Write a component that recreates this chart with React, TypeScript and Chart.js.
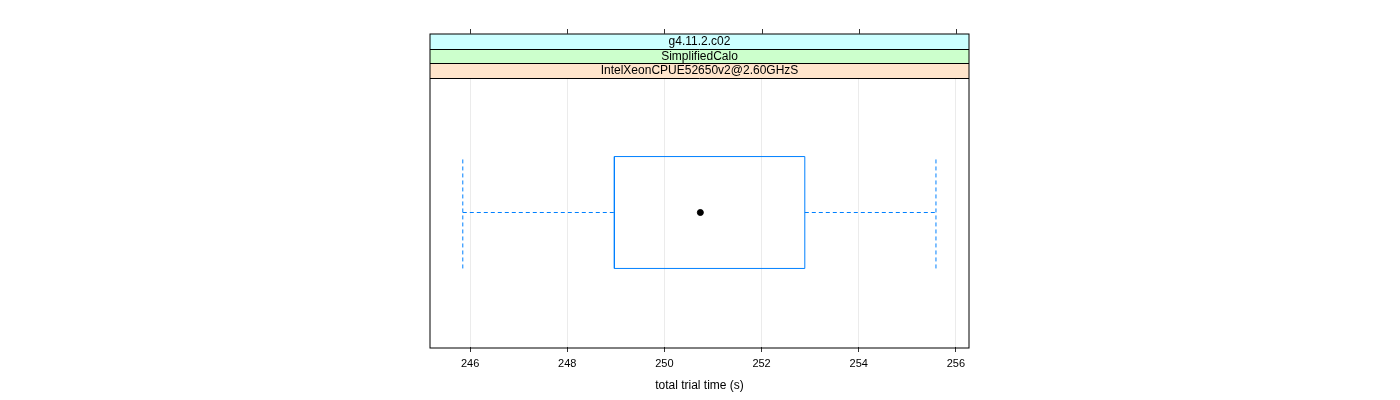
import React, { useEffect, useRef } from "react";
import { Chart, registerables } from "chart.js";

Chart.register(...registerables);

// ---- data ----
const stripLabels = ["g4.11.2.c02", "SimplifiedCalo", "IntelXeonCPUE52650v2@2.60GHzS"];
const stripColors = ["#ccffff", "#ccffcc", "#ffe5cc"];
const whiskerLow = [245.85];
const quartile1 = [248.97];
const medians = [250.74];
const quartile3 = [252.89];
const whiskerHigh = [255.59];
const xTicks = [246, 248, 250, 252, 254, 256];
const xMin = 245.175;
const xMax = 256.27;
const xTitle = "total trial time (s)";

const FONT = "'Liberation Sans', Arial, Helvetica, sans-serif";
const BOX_CENTER = 0.5;
const BOX_HALF = 0.208;
const BOX_COLOR = "#0080ff";

const latticePlugin = {
  id: "lattice",
  afterDraw(chart: any) {
    const { ctx, chartArea } = chart;
    const xs = chart.scales.x;
    const left = Math.round(chartArea.left);
    const right = Math.round(chartArea.right);
    const bottom = Math.round(chartArea.bottom);
    const stripTop = 34;
    const stripH = (Math.round(chartArea.top) - stripTop) / stripLabels.length;
    ctx.save();
    // strip fills + labels
    stripLabels.forEach((lab, i) => {
      const y0 = Math.round(stripTop + i * stripH);
      const y1 = Math.round(stripTop + (i + 1) * stripH);
      ctx.fillStyle = stripColors[i];
      ctx.fillRect(left, y0, right - left, y1 - y0);
      ctx.fillStyle = "#000000";
      ctx.font = `12px ${FONT}`;
      ctx.textAlign = "center";
      ctx.textBaseline = "middle";
      ctx.fillText(lab, (left + right) / 2, (y0 + y1) / 2 + 0.5);
    });
    // strip separators
    ctx.strokeStyle = "#000000";
    ctx.lineWidth = 1;
    for (let i = 1; i <= stripLabels.length; i++) {
      const y1 = Math.round(stripTop + i * stripH);
      ctx.beginPath();
      ctx.moveTo(left, y1 + 0.5);
      ctx.lineTo(right, y1 + 0.5);
      ctx.stroke();
    }
    // panel border (soft, like the reference)
    ctx.strokeStyle = "#000000";
    ctx.lineWidth = 1;
    ctx.strokeRect(left, stripTop, right - left, bottom - stripTop + 1);
    // top ticks
    ctx.strokeStyle = "#333333";
    xTicks.forEach((v) => {
      const px = Math.round(xs.getPixelForValue(v)) + 0.5;
      ctx.beginPath();
      ctx.moveTo(px, stripTop - 5);
      ctx.lineTo(px, stripTop);
      ctx.stroke();
    });
    ctx.restore();
  },
};

export default function App() {
  const ref = useRef<HTMLCanvasElement | null>(null);
  useEffect(() => {
    document.body.style.margin = "0";
    const lo = BOX_CENTER - BOX_HALF;
    const hi = BOX_CENTER + BOX_HALF;
    const i = 0;
    const dashed = {
      showLine: true,
      borderColor: BOX_COLOR,
      borderWidth: 1,
      borderDash: [4, 3],
      pointRadius: 0,
    };
    const chart = new Chart(ref.current as HTMLCanvasElement, {
      type: "scatter",
      data: {
        datasets: [
          {
            ...dashed,
            data: [
              { x: whiskerLow[i], y: BOX_CENTER },
              { x: quartile1[i], y: BOX_CENTER },
            ],
          },
          {
            ...dashed,
            data: [
              { x: quartile3[i], y: BOX_CENTER },
              { x: whiskerHigh[i], y: BOX_CENTER },
            ],
          },
          {
            ...dashed,
            data: [
              { x: whiskerLow[i], y: lo },
              { x: whiskerLow[i], y: hi },
            ],
          },
          {
            ...dashed,
            data: [
              { x: whiskerHigh[i], y: lo },
              { x: whiskerHigh[i], y: hi },
            ],
          },
          {
            showLine: true,
            borderColor: BOX_COLOR,
            borderWidth: 1,
            pointRadius: 0,
            data: [
              { x: quartile1[i], y: lo },
              { x: quartile3[i], y: lo },
              { x: quartile3[i], y: hi },
              { x: quartile1[i], y: hi },
              { x: quartile1[i], y: lo },
            ],
          },
          {
            showLine: false,
            pointRadius: 3,
            pointBackgroundColor: "#000000",
            pointBorderColor: "#000000",
            data: [{ x: medians[i], y: BOX_CENTER }],
          },
        ],
      },
      options: {
        animation: false,
        responsive: false,
        maintainAspectRatio: false,
        layout: { padding: { left: 430, right: 431, top: 78, bottom: 0 } },
        plugins: { legend: { display: false }, tooltip: { enabled: false } },
        scales: {
          x: {
            type: "linear",
            min: xMin,
            max: xMax,
            afterBuildTicks: (s: any) => {
              s.ticks = xTicks.map((v) => ({ value: v }));
            },
            afterFit: (s: any) => {
              s.height = 53;
            },
            border: { display: false },
            grid: {
              color: "#ebebeb",
              tickColor: "#333333",
              tickLength: 5,
              drawOnChartArea: true,
            },
            ticks: {
              color: "#000000",
              font: { family: FONT, size: 11 },
              padding: 5,
              maxRotation: 0,
              callback: (v: any) => String(v),
            },
            title: {
              display: true,
              text: xTitle,
              color: "#000000",
              font: { family: FONT, size: 12 },
              padding: { top: 0, bottom: 7 },
            },
          },
          y: {
            type: "linear",
            min: 0,
            max: 1,
            display: false,
          },
        },
      },
      plugins: [latticePlugin],
    } as any);
    return () => chart.destroy();
  }, []);
  return (
    <div style={{ position: "fixed", left: 0, top: 0, width: 1400, height: 400 }}>
      <canvas ref={ref} width={1400} height={400} style={{ width: 1400, height: 400 }} />
    </div>
  );
}
